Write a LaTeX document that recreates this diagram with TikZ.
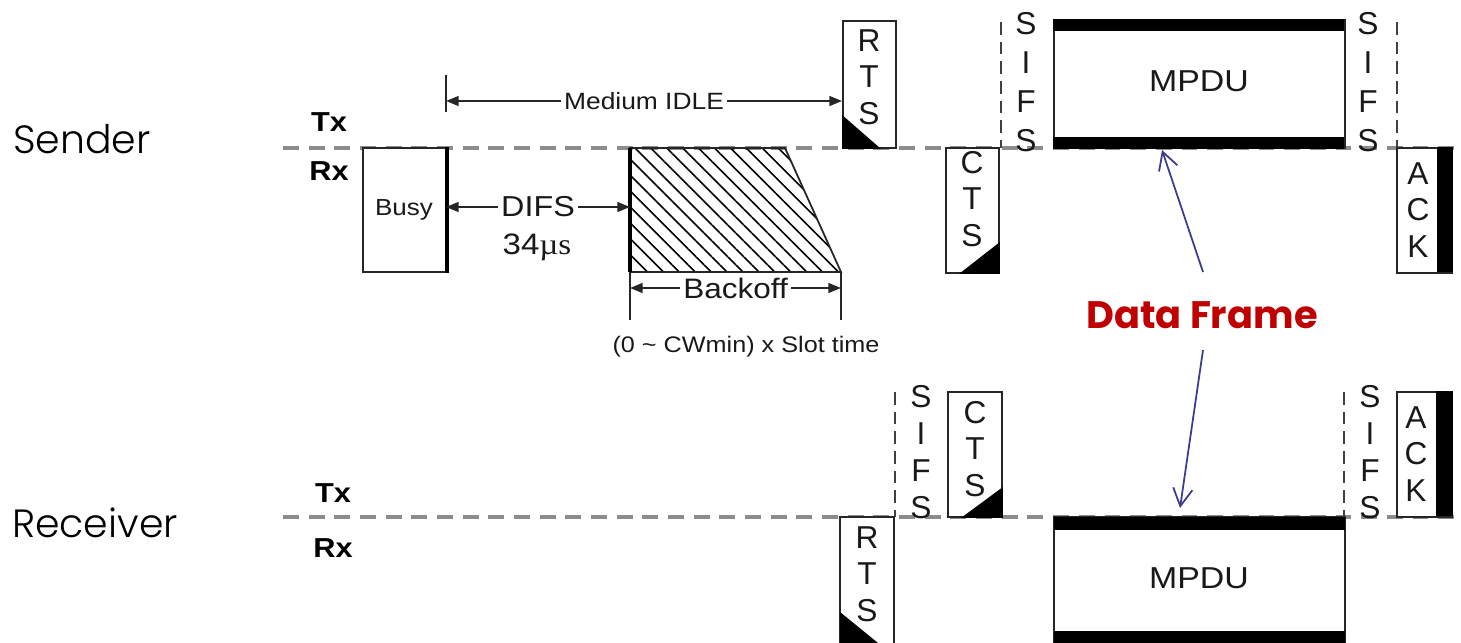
\documentclass[tikz,border=0pt]{standalone}
\usepackage{fontspec}
\setmainfont{Liberation Sans}
\newfontfamily\gfont{Poppins}
\newfontfamily\glight{Poppins Light}
\newfontfamily\tfont{Liberation Serif}
\usetikzlibrary{arrows.meta,patterns.meta,fit}
\definecolor{dfred}{HTML}{C00000}
\definecolor{dfblue}{HTML}{3B3B8F}
\newcommand\sx[1]{\scalebox{1.12}[1]{#1}}
\begin{document}
\begin{tikzpicture}[x=0.01cm,y=-0.01cm,
  timeline/.style={draw=black!45, line width=0.9pt, dash pattern=on 4.5pt off 2.8pt},
  frame/.style={draw=black!85, line width=0.55pt, fill=white, inner sep=0pt},
  sifsline/.style={draw=black!75, line width=0.5pt, dash pattern=on 3.6pt off 2pt},
  letters/.style={align=center, inner sep=0pt, text=black!90, font=\fontsize{9}{10.4}\selectfont},
  sifsS/.style={letters, font=\fontsize{9}{11.1}\selectfont},
  sifsR/.style={letters, font=\fontsize{9}{10.5}\selectfont},
  lbl/.style={inner sep=1pt, fill=white, text=black!90},
  dim/.style={draw=black!85, line width=0.5pt, {Triangle[length=3.6pt,width=2.8pt]}-{Triangle[length=3.6pt,width=2.8pt]}},
  tick/.style={draw=black!85, line width=0.5pt},
  heavy/.style={draw=black, line width=1.4pt},
  band/.style={fill=black},
  txrx/.style={font=\bfseries\fontsize{7.8}{9}\selectfont, inner sep=0pt},
  role/.style={font=\glight\fontsize{11.2}{13}\selectfont, inner sep=0pt},
  dflabel/.style={font=\gfont\bfseries\fontsize{10.9}{13}\selectfont, text=dfred, inner sep=0pt},
  dfarrow/.style={draw=dfblue, line width=0.5pt, -{Straight Barb[length=5pt,width=5.5pt]}},
]
\useasboundingbox (0,0) rectangle (1461,643);
\clip (0,0) rectangle (1461,643);

% ---------- role labels ----------
\node[role] (sender) at (82,139) {Sender};
\node[role] (receiver) at (95,523) {Receiver};

% ---------- timelines ----------
\coordinate (sL) at (283,148); \coordinate (sR) at (1461,148);
\coordinate (rL) at (283,517); \coordinate (rR) at (1461,517);
\draw[timeline] (sL) -- (sR);
\draw[timeline] (rL) -- (rR);
\node[txrx] (stx) at (329,122) {\sx{Tx}};
\node[txrx] (srx) at (329,171) {\sx{Rx}};
\node[txrx] (rtx) at (333,493) {\sx{Tx}};
\node[txrx] (rrx) at (333,548) {\sx{Rx}};

% ---------- sender ----------
% Busy
\node[frame, fit={(363,148)(446,272)}] (busy) {};
\draw[heavy] (busy.north east) -- (busy.south east);
\node[text=black!90, font=\fontsize{6.6}{8}\selectfont] (busyt) at (404,210) {\sx{Busy}};

% Medium IDLE
\coordinate (idleA) at (446,101);
\coordinate (idleTT) at (446,75); \coordinate (idleTB) at (446,112);
\draw[tick] (idleTT) -- (idleTB);

% RTS (sender)
\node[frame, fit={(843,21)(896,148)}] (rtsS) {};
\fill (rtsS.south west) -- ++(0,-34) -- ++(39,34) -- cycle;
\node[letters] (rtsSt) at (869,77) {R\\T\\S};

\coordinate (idleB) at (rtsS.west |- idleA);
\draw[dim] (idleA) -- (idleB) node[midway, lbl, font=\fontsize{6.7}{8}\selectfont] (idlet) {\sx{Medium IDLE}};

% Backoff
\path[pattern={Lines[angle=-45,distance=3.2pt,line width=0.45pt]}, draw=black!85, line width=0.5pt]
  (630,148) -- (785,148) -- (841,272) -- (630,272) -- cycle;
\coordinate (bkTL) at (630,148); \coordinate (bkBL) at (630,272);
\draw[heavy] (bkTL) -- (bkBL);
\coordinate (bkT1) at (630,272); \coordinate (bkT1b) at (630,320);
\coordinate (bkT2) at (841,272); \coordinate (bkT2b) at (841,320);
\draw[tick] (bkT1) -- (bkT1b);
\draw[tick] (bkT2) -- (bkT2b);
\coordinate (bkA) at (630,288); \coordinate (bkB) at (841,288);
\draw[dim] (bkA) -- (bkB) node[midway, lbl, font=\fontsize{8}{9}\selectfont] (bkt) {\sx{Backoff}};
\node[text=black!90, font=\fontsize{6.4}{8}\selectfont] (slot) at (746,347) {\sx{(0 \textasciitilde{} CWmin) x Slot time}};

% DIFS
\coordinate (difsA) at (446,207); \coordinate (difsB) at (630,207);
\draw[dim] (difsA) -- (difsB) node[midway, lbl, font=\fontsize{8.2}{9}\selectfont] (difst) {\sx{DIFS}};
\node[text=black!90, font=\fontsize{8.4}{9}\selectfont, inner sep=0pt] (difsv) at (537,247) {\sx{34\tfont µs}};

% CTS (sender)
\node[frame, fit={(946,148)(999,273)}] (ctsS) {};
\fill (ctsS.south east) -- ++(0,-32) -- ++(-41,32) -- cycle;
\node[letters] (ctsSt) at (972,199) {C\\T\\S};

% SIFS (sender)
\coordinate (sifs1T) at (1001,22); \coordinate (sifs1B) at (1001,148);
\draw[sifsline] (sifs1T) -- (sifs1B);
\node[sifsS] (sifs1) at (1026,82) {S\\I\\F\\S};

% MPDU (sender)
\node[frame, fit={(1054,20)(1345,148)}] (mpduS) {};
\fill[band] (mpduS.north west) rectangle ++(291,12);
\fill[band] (mpduS.south west) rectangle ++(291,-12);
\node[font=\fontsize{8.6}{10}\selectfont, text=black!90] (mpduSt) at (1199,81) {\sx{MPDU}};

\node[sifsS] (sifs2) at (1368,82) {S\\I\\F\\S};
\coordinate (sifs2T) at (1397,22); \coordinate (sifs2B) at (1397,148);
\draw[sifsline] (sifs2T) -- (sifs2B);

% ACK (sender)
\node[frame, fit={(1397,148)(1452,273)}] (ackS) {};
\fill (ackS.north east) rectangle ++(-16,125);
\node[letters] (ackSt) at (1418,210) {A\\C\\K};

% ---------- receiver ----------
\node[frame, fit={(840,517)(894,650)}] (rtsR) {};
\fill (840,612) -- (840,650) -- (878,650) -- (878,643) -- cycle;
\node[letters] (rtsRt) at (867,574) {R\\T\\S};

\coordinate (sifs3T) at (895,392); \coordinate (sifs3B) at (895,517);
\draw[sifsline] (sifs3T) -- (sifs3B);
\node[sifsR] (sifs3) at (921,452) {S\\I\\F\\S};

\node[frame, fit={(948,392)(1002,517)}] (ctsR) {};
\fill (ctsR.south east) -- ++(0,-31) -- ++(-42,31) -- cycle;
\node[letters] (ctsRt) at (975,449) {C\\T\\S};

\node[frame, fit={(1054,517)(1345,655)}] (mpduR) {};
\fill[band] (1054,517) rectangle (1345,530);
\fill[band] (1054,631) rectangle (1345,643);
\node[font=\fontsize{8.6}{10}\selectfont, text=black!90] (mpduRt) at (1199,578) {\sx{MPDU}};

\coordinate (sifs4T) at (1344,392); \coordinate (sifs4B) at (1344,517);
\draw[sifsline] (sifs4T) -- (sifs4B);
\node[sifsR] (sifs4) at (1370,452) {S\\I\\F\\S};

\node[frame, fit={(1397,392)(1452,517)}] (ackR) {};
\fill (ackR.north east) rectangle ++(-17,125);
\node[letters] (ackRt) at (1416,454) {A\\C\\K};

% ---------- Data Frame ----------
\node[dflabel] (df) at (1202,315) {Data Frame};
\coordinate (dfU) at (1203,272); \coordinate (dfUt) at (1162,150);
\coordinate (dfD) at (1203,350); \coordinate (dfDt) at (1180,508);
\draw[dfarrow] (dfU) -- (dfUt);
\draw[dfarrow] (dfD) -- (dfDt);
\end{tikzpicture}
\end{document}
